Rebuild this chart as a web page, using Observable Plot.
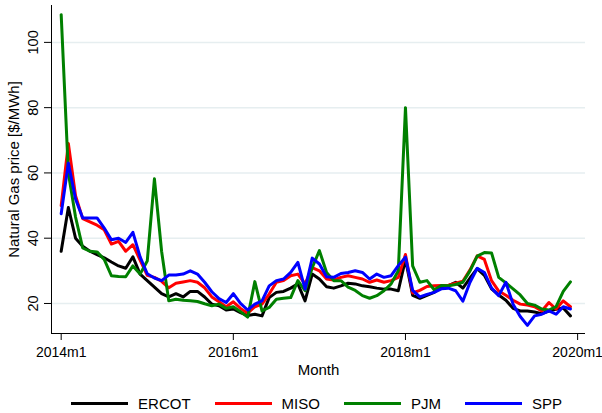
<!DOCTYPE html>
<html><head><meta charset="utf-8">
<script src="https://cdn.jsdelivr.net/npm/d3@7"></script>
<script src="https://cdn.jsdelivr.net/npm/@observablehq/plot@0.6"></script>
<style>
body{margin:0;background:#fff;font-family:"Liberation Sans",Arial,sans-serif;}
#legend{display:flex;align-items:center;justify-content:center;height:20px;margin-top:15px;padding-left:31px;box-sizing:border-box;width:602px;font-size:15px;color:#000}
.item{display:flex;align-items:center;margin:0 12px}
.sw{width:57px;height:0;border-top:3.5px solid;margin-right:10px}
</style></head><body><div id="chart"></div><div id="legend"></div>
<script>
const startYear = 2014;
const seriesNames = ["ERCOT", "MISO", "PJM", "SPP"];
const seriesColors = ["#000000", "#ff0000", "#008000", "#0000ff"];

const ercot = [36, 49.4, 40, 37.5, 36, 35, 34, 32.7, 31.5, 30.8, 34.3, 29,
  27, 25, 23, 22, 23, 22, 23.7, 23.7, 22, 19.8, 19.3, 18,
  18.3, 17.2, 16.3, 16.7, 16.2, 21.8, 23.4, 23.7, 24.7, 26, 20.8, 29,
  27.5, 25.1, 24.7, 25.4, 26.2, 26, 25.4, 25.1, 24.7, 24.4, 24.4, 23.9,
  33.5, 22.5, 21.6, 22.5, 23.4, 25, 25.5, 26.5, 24.7, 27.8, 30.7, 28.6,
  24.5, 22.6, 21, 18.5, 17.7, 17.7, 17.4, 16.9, 17.7, 18.2, 18.6, 16.2];
const miso = [50, 69, 53, 46, 45, 44, 42.6, 38.2, 39, 36, 38, 33.3,
  28.6, 28, 26.8, 24.8, 26.2, 26.6, 27, 26.5, 24.8, 22, 20.5, 19,
  20.5, 18.5, 17, 19, 19.8, 22.9, 26.5, 27, 28.5, 29, 26, 31,
  30, 27.5, 27.2, 28, 28.5, 28, 27.5, 26.5, 27.2, 26.5, 27, 28,
  35, 23.2, 24, 25.2, 25.4, 25.5, 25.6, 26.2, 26.8, 30.3, 34.6, 33.5,
  27, 23.8, 22.5, 21, 19.8, 19.5, 19, 17.7, 20.3, 18.3, 20.8, 19];
const pjm = [108.5, 60, 46.5, 37, 36, 35.8, 33.5, 28.5, 28.3, 28.2, 31.5, 29,
  33, 58.2, 36, 20.8, 21.3, 21, 20.8, 20.6, 19.9, 19.3, 19.8, 18.5,
  19, 17.5, 15.8, 26.7, 17.7, 18.8, 21.3, 21.6, 21.8, 27, 23.9, 31,
  36.2, 29.5, 27, 27, 25, 24, 22.4, 21.6, 22.4, 23.9, 26, 30,
  80, 31.5, 26.5, 27, 24.2, 25.5, 25.4, 25.8, 26.5, 30, 34.5, 35.6,
  35.5, 28, 26.3, 24.5, 22.6, 20, 19.5, 18.3, 18, 19, 23.7, 26.6];
const spp = [47.5, 63, 52, 46.2, 46.2, 46.2, 43.1, 39.5, 40, 38.7, 41.8, 34.3,
  29.1, 27.8, 27, 28.7, 28.7, 29, 30, 29, 26.5, 23.6, 21.5, 20.3,
  23, 20, 18, 19.8, 20.8, 25.4, 27, 27.5, 29.5, 32.6, 24.4, 33.9,
  32.1, 28.2, 28, 29.2, 29.5, 30, 29.5, 27.5, 29, 28, 28.5, 31.6,
  34.2, 24, 22, 22.8, 23.4, 24.5, 24.7, 23.9, 20.7, 26.5, 30.8, 29.5,
  24.7, 22.4, 26.5, 19.8, 16, 13.3, 16.2, 16.7, 17.7, 16.7, 19, 18.3];

const xTickLabels = ["2014m1", "2016m1", "2018m1", "2020m1"];
const yTicks = [20, 40, 60, 80, 100];
const yLabel = "Natural Gas price [$/MWh]";
const xLabel = "Month";

const allSeries = [ercot, miso, pjm, spp];
const rows = allSeries.flatMap((vals, s) => vals.map((v, i) => ({series: seriesNames[s], m: i, v})));
const xTickPos = xTickLabels.map(l => { const [y, mo] = l.split("m").map(Number); return (y - startYear) * 12 + mo - 1; });
const xDomain = [-1.35, 73.1];
const yDomain = [10.8, 111.3];

const lines = seriesNames.map((name, s) =>
  Plot.line(rows.filter(r => r.series === name), {x: "m", y: "v", stroke: seriesColors[s], strokeWidth: 3, strokeLinejoin: "round"}));

const chart = Plot.plot({
  width: 602, height: 378,
  marginTop: 5, marginBottom: 45, marginLeft: 51, marginRight: 17,
  style: {fontFamily: '"Liberation Sans", Arial, sans-serif', fontSize: "14.5px", color: "#000", background: "#fff"},
  x: {domain: xDomain},
  y: {domain: yDomain},
  marks: [
    Plot.gridY({ticks: yTicks, stroke: "#e6eef0", strokeOpacity: 1, strokeWidth: 1.5}),
    Plot.ruleX([xDomain[0]], {stroke: "#000", strokeWidth: 1}),
    Plot.ruleY([yDomain[0]], {stroke: "#000", strokeWidth: 1}),
    Plot.axisY({ticks: yTicks, tickSize: 7, tickPadding: 7, tickRotate: -90, label: null}),
    Plot.axisX({ticks: xTickPos, tickSize: 7, tickPadding: 7, fontSize: 14, tickFormat: d => xTickLabels[xTickPos.indexOf(d)], label: null}),
    ...lines,
    Plot.text([yLabel], {text: d => d, frameAnchor: "left", rotate: -90, dx: -33, lineAnchor: "bottom", textAnchor: "middle", fontSize: 15}),
    Plot.text([xLabel], {text: d => d, frameAnchor: "bottom", dy: 37, lineAnchor: "middle", fontSize: 15})
  ]
});
document.getElementById("chart").appendChild(chart);

const legend = document.getElementById("legend");
seriesNames.forEach((name, s) => {
  const item = document.createElement("div");
  item.className = "item";
  const sw = document.createElement("div");
  sw.className = "sw";
  sw.style.borderTopColor = seriesColors[s];
  const t = document.createElement("span");
  t.textContent = name;
  item.appendChild(sw); item.appendChild(t);
  legend.appendChild(item);
});
</script></body></html>
